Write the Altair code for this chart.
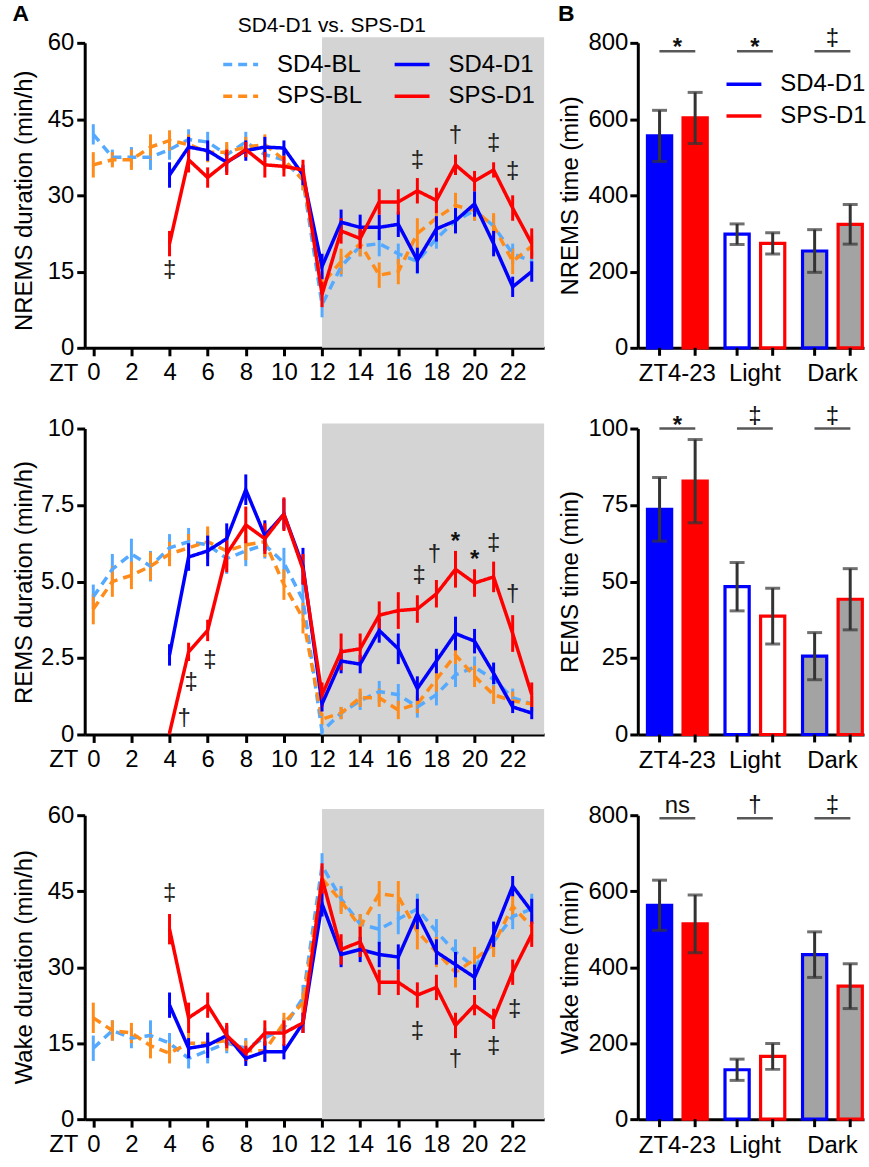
import altair as alt
import pandas as pd

FONT = "Liberation Sans"

# ---------------- data ----------------
hours_bl = list(range(0, 24))
hours_d1 = list(range(4, 24))
series = ["SD4-BL", "SPS-BL", "SD4-D1", "SPS-D1"]
series_colors = ["#55aaff", "#ff8c1a", "#0000ff", "#ff0000"]
series_dash = [[9, 6], [9, 6], [1, 0], [1, 0]]
dark_start = [12]
dark_end = [24]

# NREMS duration (min/h)
nrems_sd4_bl = [42, 37.5, 37.5, 37.5, 39, 41, 40.5, 38, 40.5, 38, 37, 33, 8.5, 16, 20, 20.5, 18.5, 17, 21.5, 25, 27, 24, 18.5, 17]
nrems_sd4_bl_sem = [2, 1.5, 2, 2.5, 2, 2, 2, 2, 2, 2, 2, 2, 2.5, 2, 2, 2.5, 2, 2.5, 2, 2, 2, 2, 2, 2]
nrems_sps_bl = [36, 37, 37, 39.5, 40.8, 40, 38.5, 38.5, 39.5, 40, 37, 33, 12.5, 17, 20.5, 14.3, 15, 22.5, 25.5, 28, 27, 24, 17, 20]
nrems_sps_bl_sem = [2.5, 1.5, 2, 2.5, 2, 2, 2, 2, 2, 2, 2, 2, 2.5, 2.5, 2.5, 2.5, 2.5, 3, 2.5, 2.5, 2, 2.5, 2.5, 2]
nrems_sd4_d1 = [34, 39.5, 38.8, 36.5, 38.8, 39.5, 39.3, 34, 16, 24.7, 23.7, 23.7, 24.3, 17.2, 23.4, 25, 28.3, 20.5, 12, 15]
nrems_sd4_d1_sem = [2.5, 2, 2, 2, 2, 2, 1.5, 2, 2.5, 2.5, 2.5, 2.5, 2.5, 2.5, 2.5, 2.5, 2.5, 2.5, 2, 2]
nrems_sps_d1 = [20.5, 37, 33.5, 36.5, 39, 36, 35.7, 35, 10.5, 23, 21.5, 28.7, 28.7, 30.9, 29, 36, 32.8, 35, 27.5, 20.5]
nrems_sps_d1_sem = [2.5, 2.5, 2, 2.5, 1.5, 2.5, 2, 2, 2.5, 2.5, 2, 2.5, 2.5, 2.5, 2.5, 2, 2, 1.5, 2.5, 3]

# REMS duration (min/h)
rems_sd4_bl = [4.5, 5.4, 5.9, 5.5, 6.1, 6.3, 6.2, 5.75, 6.0, 6.2, 5.6, 4.4, 0.1, 0.7, 1.1, 1.4, 1.3, 0.9, 1.3, 1.95, 2.2, 1.8, 1.2, 1.0]
rems_sd4_bl_sem = [0.4, 0.5, 0.5, 0.5, 0.45, 0.45, 0.45, 0.5, 0.5, 0.45, 0.5, 0.5, 0.1, 0.2, 0.3, 0.35, 0.35, 0.35, 0.35, 0.4, 0.35, 0.35, 0.3, 0.25]
rems_sps_bl = [4.1, 5.0, 5.2, 5.5, 5.9, 6.1, 6.3, 6.0, 6.2, 6.3, 4.9, 3.8, 0.5, 0.7, 1.2, 1.2, 0.8, 1.0, 1.8, 2.6, 1.9, 1.3, 1.1, 1.0]
rems_sps_bl_sem = [0.5, 0.5, 0.45, 0.45, 0.4, 0.45, 0.5, 0.5, 0.5, 0.5, 0.5, 0.5, 0.2, 0.2, 0.3, 0.3, 0.3, 0.3, 0.4, 0.3, 0.35, 0.3, 0.3, 0.25]
rems_sd4_d1 = [2.6, 5.8, 6.0, 6.4, 8.0, 6.5, 7.2, 5.5, 1.0, 2.4, 2.3, 3.4, 2.8, 1.5, 2.4, 3.3, 3.05, 2.0, 0.9, 0.7]
rems_sd4_d1_sem = [0.35, 0.45, 0.5, 0.5, 0.5, 0.5, 0.5, 0.6, 0.25, 0.4, 0.3, 0.4, 0.5, 0.4, 0.4, 0.55, 0.4, 0.35, 0.2, 0.2]
rems_sps_d1 = [0.05, 2.7, 3.4, 5.9, 6.85, 6.4, 7.2, 5.4, 1.3, 2.7, 2.8, 3.9, 4.05, 4.1, 4.6, 5.4, 4.95, 5.15, 3.3, 1.3]
rems_sps_d1_sem = [0.05, 0.3, 0.35, 0.6, 0.6, 0.5, 0.55, 0.5, 0.4, 0.6, 0.5, 0.45, 0.6, 0.45, 0.45, 0.6, 0.45, 0.5, 0.6, 0.4]

# Wake duration (min/h)
wake_sd4_bl = [14, 17.5, 16, 16.5, 15, 12, 13.5, 15, 14, 16, 18, 24, 50, 43.5, 38.5, 37.5, 39.5, 41.5, 37, 33, 30, 35, 40, 41.5]
wake_sd4_bl_sem = [2.5, 2, 2, 3, 2, 2, 2.5, 2, 2, 2, 2, 2.5, 2.5, 2.5, 2, 3, 3, 3, 2.5, 2.5, 2, 2.5, 2.5, 3]
wake_sps_bl = [20, 17.5, 17, 14.5, 13, 15, 15, 15.5, 13.5, 13.5, 19, 23, 47.5, 43, 38, 44.5, 44, 37, 33, 29, 31.5, 34.5, 42, 38]
wake_sps_bl_sem = [3, 2, 2, 2.5, 2, 2, 2, 2, 2, 2, 2, 2, 2.5, 2.5, 2.5, 2.5, 3, 3.5, 3, 3, 2.5, 2.5, 2.5, 2.5]
wake_sd4_d1 = [22.5, 14, 14.6, 16.5, 12, 13.3, 13.3, 19, 42.5, 32.5, 33.5, 32.5, 32, 40.5, 33, 30.5, 28, 36.5, 46, 41]
wake_sd4_d1_sem = [2.5, 2, 2.5, 2, 1.5, 2, 1.5, 2, 2.5, 2.5, 2.5, 2.5, 2.5, 3, 2.5, 2.5, 2.5, 2.5, 2, 2.5]
wake_sps_d1 = [37.5, 20, 22.5, 16.5, 13, 17, 17, 19, 47.5, 33.5, 35, 27, 27, 24.5, 26, 18.5, 22.5, 19.8, 29, 36.5]
wake_sps_d1_sem = [3, 3, 2.5, 2.5, 1.5, 2.5, 2.5, 2, 3, 3, 3, 2.5, 2.5, 2.5, 2.5, 2.5, 2, 2, 2.5, 2.5]

# significance symbols on the hourly plots
nrems_ann_x = [4, 17, 19, 21, 22]
nrems_ann_y = [15.2, 36.8, 41.7, 40, 34.5]
nrems_ann_s = ["‡", "‡", "†", "‡", "‡"]
rems_ann_x = [4.76, 5.13, 6.12, 17.1, 17.9, 19, 20, 21, 22]
rems_ann_y = [0.49, 1.68, 2.41, 5.18, 5.86, 6.5, 5.89, 6.24, 4.55]
rems_ann_s = ["†", "‡", "‡", "‡", "†", "*", "*", "‡", "†"]
wake_ann_x = [4, 17, 19, 21, 22.1]
wake_ann_y = [44.4, 17.2, 11.7, 14.3, 21.5]
wake_ann_s = ["‡", "‡", "†", "‡", "‡"]

# totals (panel B)
periods = ["ZT4-23", "Light", "Dark"]
groups = ["SD4-D1", "SPS-D1"]
nrems_tot_sd4 = [556, 298, 254]
nrems_tot_sd4_sem = [67, 27, 56]
nrems_tot_sps = [603, 274, 324]
nrems_tot_sps_sem = [67, 28, 52]
rems_tot_sd4 = [73.6, 48.3, 25.6]
rems_tot_sd4_sem = [10.4, 7.9, 7.7]
rems_tot_sps = [82.8, 38.7, 44.2]
rems_tot_sps_sem = [13.6, 9.1, 10.0]
wake_tot_sd4 = [563, 130, 433]
wake_tot_sd4_sem = [66, 28, 60]
wake_tot_sps = [514, 165, 350]
wake_tot_sps_sem = [76, 34, 59]
nrems_sig = ["*", "*", "‡"]
nrems_sig_y = 778
rems_sig = ["*", "‡", "‡"]
rems_sig_y = 100
wake_sig = ["ns", "†", "‡"]
wake_sig_y = 792

panel_title = ["SD4-D1 vs. SPS-D1"]


# ---------------- helpers ----------------
def long_df(pairs):
    frames = []
    for hrs, vals, sems, name in pairs:
        frames.append(pd.DataFrame({"hour": hrs, "value": vals, "sem": sems, "series": name}))
    return pd.concat(frames, ignore_index=True)


LW = 461
BW = 227


def line_panel(bl_df, d1_df, ann_x, ann_y, ann_s, ymax, yticks, ytitle, title_y, height,
               gray_over, label_expr=None, show_legend=False):
    xs = alt.Scale(domain=[-0.45, 23.65], nice=False, zero=False, clamp=True)
    ys = alt.Scale(domain=[0, ymax], nice=False, zero=True)
    xaxis = alt.Axis(values=list(range(0, 23, 2)), title="ZT", titleX=-21.5, titleY=13.5,
                     titleAngle=0, titleAlign="center", titleBaseline="top", labelPadding=5,
                     labelFlush=False, labelOverlap=False, format="d")
    ykw = dict(values=yticks, title=ytitle, titleX=-60, titleY=title_y, titleAngle=-90,
               titleAlign="center", titleBaseline="middle", labelPadding=3)
    if label_expr:
        ykw["labelExpr"] = label_expr
    yaxis = alt.Axis(**ykw)

    if show_legend:
        leg = alt.Legend(orient="none", legendX=137, legendY=2, columns=2, title=None,
                         symbolType="stroke", symbolSize=1225, symbolStrokeWidth=3.5,
                         labelFontSize=24, labelOffset=17, rowPadding=-4, columnPadding=25,
                         padding=0, labelColor="black", labelFont=FONT)
    else:
        leg = None
    col = alt.Color("series:N", scale=alt.Scale(domain=series, range=series_colors), legend=leg)
    dash = alt.StrokeDash("series:N", scale=alt.Scale(domain=series, range=series_dash), legend=leg)

    gray = alt.Chart(pd.DataFrame({"start": dark_start, "end": dark_end})).mark_rect(
        color="#d4d4d4").encode(
        x=alt.X("start:Q", scale=xs, axis=xaxis),
        x2="end:Q",
        y=alt.value(height), y2=alt.value(-gray_over))

    def errs(df):
        return alt.Chart(df).transform_calculate(
            lo="datum.value - datum.sem", hi="datum.value + datum.sem").mark_rule(
            strokeWidth=3).encode(
            x=alt.X("hour:Q", scale=xs, axis=xaxis),
            y=alt.Y("lo:Q", scale=ys, axis=yaxis), y2="hi:Q", color=col)

    def lines(df):
        return alt.Chart(df).mark_line(strokeWidth=3.5).encode(
            x=alt.X("hour:Q", scale=xs, axis=xaxis),
            y=alt.Y("value:Q", scale=ys, axis=yaxis),
            color=col, strokeDash=dash)

    ann = pd.DataFrame({"x": ann_x, "y": ann_y, "s": ann_s})
    dag = alt.Chart(ann).transform_filter("datum.s != '*'").mark_text(
        fontSize=24, color="#222222", baseline="alphabetic", dy=7, font=FONT).encode(
        x=alt.X("x:Q", scale=xs, axis=xaxis), y=alt.Y("y:Q", scale=ys, axis=yaxis), text="s:N")
    star = alt.Chart(ann).transform_filter("datum.s == '*'").mark_text(
        fontSize=24, fontWeight="bold", color="#111111", baseline="alphabetic", dy=13, font=FONT).encode(
        x=alt.X("x:Q", scale=xs, axis=xaxis), y=alt.Y("y:Q", scale=ys, axis=yaxis), text="s:N")

    return alt.layer(gray, errs(bl_df), lines(bl_df), errs(d1_df), lines(d1_df), dag, star).properties(
        width=LW, height=height)


def bar_panel(sd4, sd4_sem, sps, sps_sem, sig, sig_y, ymax, yticks, ytitle, height, show_legend=False):
    df = pd.concat([
        pd.DataFrame({"period": periods, "group": groups[0], "value": sd4, "sem": sd4_sem}),
        pd.DataFrame({"period": periods, "group": groups[1], "value": sps, "sem": sps_sem}),
    ], ignore_index=True)
    sdf = pd.DataFrame({"period": periods, "sig": sig, "y": [sig_y] * len(periods)})

    xs = alt.Scale(domain=periods, paddingInner=0.229, paddingOuter=0.0733, align=0.85)
    xo = alt.Scale(domain=groups, paddingInner=0.32, paddingOuter=0)
    ys = alt.Scale(domain=[0, ymax], nice=False, zero=True)
    xaxis = alt.Axis(title=None, ticks=False, labelAngle=0, labelPadding=14)
    yaxis = alt.Axis(values=yticks, title=ytitle, titleX=-68, titleY=height / 2, titleAngle=-90,
                     titleAlign="center", titleBaseline="middle", labelPadding=2)
    X = alt.X("period:N", scale=xs, axis=xaxis)
    XO = alt.XOffset("group:N", scale=xo)
    if show_legend:
        leg = alt.Legend(orient="none", legendX=87, legendY=22, title=None, symbolType="stroke",
                         symbolSize=1225, symbolStrokeWidth=3.5, labelFontSize=24, labelOffset=17,
                         rowPadding=-4, padding=0, labelColor="black", labelFont=FONT)
    else:
        leg = None
    stroke = alt.Stroke("group:N", scale=alt.Scale(domain=groups, range=["#0000ff", "#ff0000"]), legend=leg)

    bars = alt.Chart(df).transform_calculate(
        fk="datum.period == 'ZT4-23' ? datum.group : datum.period").mark_bar(strokeWidth=3.2).encode(
        x=X, xOffset=XO, y=alt.Y("value:Q", scale=ys, axis=yaxis),
        fill=alt.Fill("fk:N", scale=alt.Scale(domain=["SD4-D1", "SPS-D1", "Light", "Dark"],
                                              range=["#0000ff", "#ff0000", "#ffffff", "#a3a3a3"]),
                      legend=None),
        stroke=stroke)
    eb = alt.Chart(df).transform_calculate(
        lo="datum.value - datum.sem", hi="datum.value + datum.sem")
    err = eb.mark_rule(color="#333333", strokeWidth=3).encode(
        x=X, xOffset=XO, y=alt.Y("lo:Q", scale=ys, axis=yaxis), y2="hi:Q")
    cap_lo = eb.mark_tick(color="#333333", thickness=3, size=15).encode(
        x=X, xOffset=XO, y=alt.Y("lo:Q", scale=ys, axis=yaxis))
    cap_hi = eb.mark_tick(color="#333333", thickness=3, size=15).encode(
        x=X, xOffset=XO, y=alt.Y("hi:Q", scale=ys, axis=yaxis))
    xticks = alt.Chart(df).mark_rule(color="black", strokeWidth=3).encode(
        x=X, xOffset=XO, y=alt.value(height), y2=alt.value(height + 8))
    sig_line = alt.Chart(sdf).mark_tick(color="#111111", thickness=2.5, size=36).encode(
        x=X, y=alt.Y("y:Q", scale=ys, axis=yaxis))
    sig_star = alt.Chart(sdf).transform_filter("datum.sig == '*'").mark_text(
        fontSize=24, fontWeight="bold", color="#111111", baseline="alphabetic", dy=4, font=FONT).encode(
        x=X, y=alt.Y("y:Q", scale=ys, axis=yaxis), text="sig:N")
    sig_other = alt.Chart(sdf).transform_filter("datum.sig != '*'").mark_text(
        fontSize=24, color="#111111", baseline="alphabetic", dy=-5, font=FONT).encode(
        x=X, y=alt.Y("y:Q", scale=ys, axis=yaxis), text="sig:N")
    return alt.layer(bars, err, cap_lo, cap_hi, xticks, sig_line, sig_star, sig_other).properties(
        width=BW, height=height)


# ---------------- panels ----------------
nrems_bl = long_df([(hours_bl, nrems_sd4_bl, nrems_sd4_bl_sem, "SD4-BL"),
                    (hours_bl, nrems_sps_bl, nrems_sps_bl_sem, "SPS-BL")])
nrems_d1 = long_df([(hours_d1, nrems_sd4_d1, nrems_sd4_d1_sem, "SD4-D1"),
                    (hours_d1, nrems_sps_d1, nrems_sps_d1_sem, "SPS-D1")])
rems_bl = long_df([(hours_bl, rems_sd4_bl, rems_sd4_bl_sem, "SD4-BL"),
                   (hours_bl, rems_sps_bl, rems_sps_bl_sem, "SPS-BL")])
rems_d1 = long_df([(hours_d1, rems_sd4_d1, rems_sd4_d1_sem, "SD4-D1"),
                   (hours_d1, rems_sps_d1, rems_sps_d1_sem, "SPS-D1")])
wake_bl = long_df([(hours_bl, wake_sd4_bl, wake_sd4_bl_sem, "SD4-BL"),
                   (hours_bl, wake_sps_bl, wake_sps_bl_sem, "SPS-BL")])
wake_d1 = long_df([(hours_d1, wake_sd4_d1, wake_sd4_d1_sem, "SD4-D1"),
                   (hours_d1, wake_sps_d1, wake_sps_d1_sem, "SPS-D1")])

letter_a = alt.Chart(pd.DataFrame({"t": ["A"]})).mark_text(
    fontSize=23, fontWeight="bold", align="left", baseline="alphabetic", font=FONT, color="black").encode(
    text="t:N", x=alt.value(-72.5), y=alt.value(-21.6))
letter_b = alt.Chart(pd.DataFrame({"t": ["B"]})).mark_text(
    fontSize=23, fontWeight="bold", align="left", baseline="alphabetic", font=FONT, color="black").encode(
    text="t:N", x=alt.value(-80), y=alt.value(-21.6))
title_a = alt.Chart(pd.DataFrame({"t": panel_title})).mark_text(
    fontSize=21, align="center", baseline="alphabetic", font=FONT, color="black").encode(
    text="t:N", x=alt.value(248), y=alt.value(-10.5))

p1 = line_panel(nrems_bl, nrems_d1, nrems_ann_x, nrems_ann_y, nrems_ann_s, 60, [0, 15, 30, 45, 60],
                "NREMS duration (min/h)", 158, 306, 5.6, show_legend=True)
p1 = alt.layer(p1, letter_a, title_a)
p2 = bar_panel(nrems_tot_sd4, nrems_tot_sd4_sem, nrems_tot_sps, nrems_tot_sps_sem, nrems_sig, nrems_sig_y,
               800, [0, 200, 400, 600, 800], "NREMS time (min)", 306, show_legend=True)
p2 = alt.layer(p2, letter_b)
p3 = line_panel(rems_bl, rems_d1, rems_ann_x, rems_ann_y, rems_ann_s, 10, [0, 2.5, 5, 7.5, 10],
                "REMS duration (min/h)", 154, 307, 5,
                label_expr="datum.value == 0 ? '0' : datum.value == 10 ? '10' : format(datum.value, '.1f')")
p4 = bar_panel(rems_tot_sd4, rems_tot_sd4_sem, rems_tot_sps, rems_tot_sps_sem, rems_sig, rems_sig_y,
               100, [0, 25, 50, 75, 100], "REMS time (min)", 307)
p5 = line_panel(wake_bl, wake_d1, wake_ann_x, wake_ann_y, wake_ann_s, 60, [0, 15, 30, 45, 60],
                "Wake duration (min/h)", 152, 305, 6.3)
p6 = bar_panel(wake_tot_sd4, wake_tot_sd4_sem, wake_tot_sps, wake_tot_sps_sem, wake_sig, wake_sig_y,
               800, [0, 200, 400, 600, 800], "Wake time (min)", 305)

chart = alt.concat(p1, p2, p3, p4, p5, p6, columns=2, spacing={"row": 81, "column": 94},
                   bounds="flush").resolve_scale(
    color="independent", strokeDash="independent", stroke="independent", fill="independent",
    x="independent", y="independent", xOffset="independent").resolve_legend(
    color="independent", strokeDash="independent", stroke="independent", fill="independent").properties(
    padding={"left": 12, "top": 1, "right": 2, "bottom": 5}).configure(
    font=FONT).configure_view(stroke=None).configure_axis(
    grid=False, domainColor="black", domainWidth=3, tickColor="black", tickWidth=3, tickSize=8,
    labelFontSize=24, titleFontSize=24, labelColor="black", titleColor="black", labelFont=FONT,
    titleFont=FONT, titleFontWeight="normal")

chart.save("out.html", embed_options={"renderer": "svg", "actions": False})
